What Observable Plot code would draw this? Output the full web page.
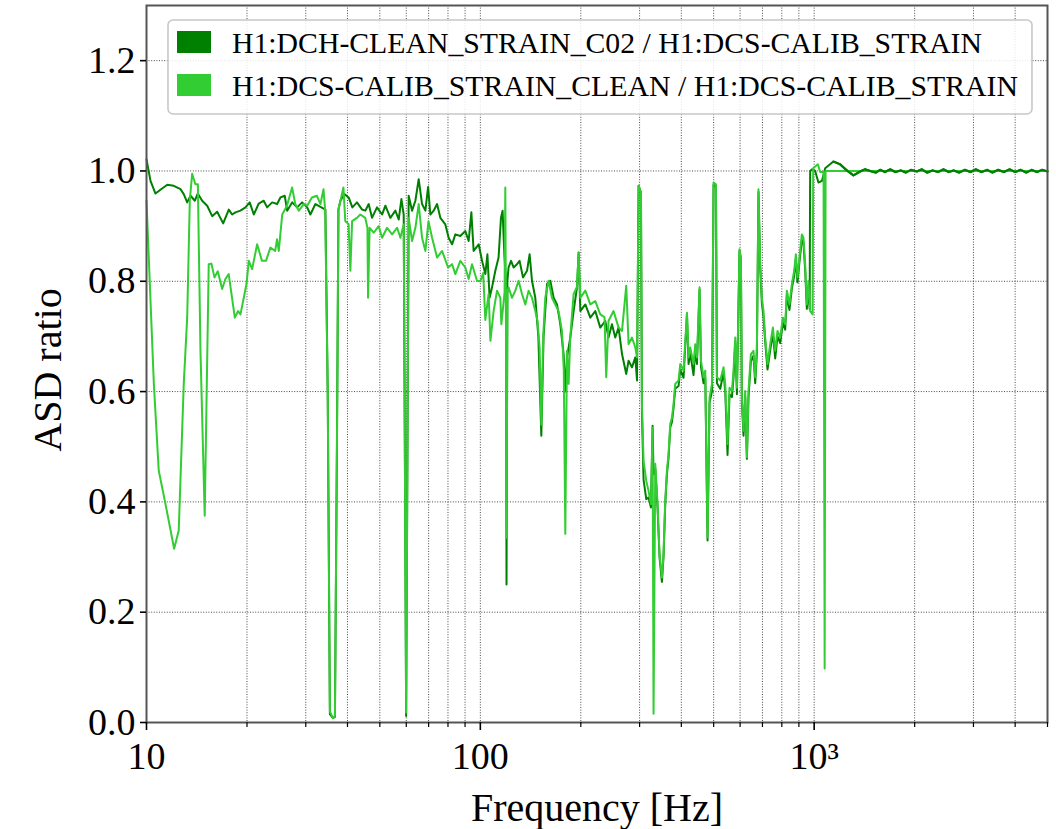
<!DOCTYPE html>
<html>
<head>
<meta charset="utf-8">
<script src="https://cdn.jsdelivr.net/npm/d3@7"></script>
<script src="https://cdn.jsdelivr.net/npm/@observablehq/plot@0.6"></script>
<style>
  body { margin: 0; background: #fff; }
  #chart { position: relative; width: 1056px; height: 829px; }
</style>
</head>
<body>
<div id="chart"></div>
<script>
// ---- data (frequency in Hz, ASD ratio) ----
const seriesNames = [
  "H1:DCH-CLEAN_STRAIN_C02 / H1:DCS-CALIB_STRAIN",
  "H1:DCS-CALIB_STRAIN_CLEAN / H1:DCS-CALIB_STRAIN"
];
const seriesColors = ["#008000", "#32cd32"];

const c02Ratio = [
  [10.0,1.021],[10.28,0.982],[10.64,0.959],[11.01,0.966],[11.54,0.975],[12.07,0.973],[12.64,0.967],[12.93,0.958],
  [13.24,0.943],[13.55,0.955],[13.96,0.946],[14.24,0.959],[14.68,0.946],[15.20,0.937],[15.73,0.918],[16.28,0.926],
  [16.97,0.905],[17.64,0.930],[18.05,0.921],[18.47,0.925],[19.12,0.928],[19.79,0.934],[20.38,0.943],[20.96,0.921],
  [21.69,0.941],[22.45,0.946],[22.98,0.934],[23.79,0.943],[24.62,0.940],[25.19,0.952],[25.95,0.955],[26.38,0.928],
  [27.30,0.943],[28.26,0.934],[29.25,0.943],[30.29,0.934],[30.97,0.921],[32.06,0.940],[33.19,0.935],[34.35,0.930],
  [34.90,0.600],[35.43,0.015],[36.18,0.008],[36.68,0.010],[37.19,0.500],[37.58,0.930],[38.09,0.946],[39.16,0.958],
  [40.33,0.952],[41.36,0.934],[42.71,0.943],[44.24,0.930],[45.26,0.928],[46.30,0.940],[47.37,0.915],[49.03,0.934],
  [50.78,0.921],[51.95,0.937],[53.76,0.915],[55.66,0.928],[56.95,0.912],[58.02,0.949],[58.95,0.921],[59.95,0.012],
  [61.0,0.955],[62.45,0.928],[63.89,0.946],[65.37,0.985],[66.90,0.940],[68.46,0.928],[69.75,0.971],[70.84,0.921],
  [72.48,0.928],[74.20,0.940],[75.89,0.915],[78.56,0.903],[80.37,0.879],[82.28,0.867],[84.17,0.885],[87.11,0.882],
  [90.18,0.891],[92.26,0.873],[94.0,0.925],[95.48,0.855],[98.88,0.867],[101.2,0.837],[103.5,0.813],[105.0,0.849],
  [106.6,0.770],[108.4,0.789],[110.9,0.819],[113.4,0.843],[115.3,0.915],[116.6,0.928],[118.0,0.849],[119.3,0.800],
  [119.8,0.250],[120.5,0.800],[121.5,0.825],[123.6,0.837],[125.8,0.825],[128.8,0.831],[131.1,0.837],[134.2,0.807],
  [138.0,0.819],[140.5,0.849],[142.8,0.801],[146.1,0.770],[149.2,0.700],[152.3,0.520],[154.7,0.700],[158.4,0.795],
  [162.0,0.801],[165.8,0.770],[169.7,0.758],[173.6,0.722],[177.6,0.668],[179.7,0.600],[181.8,0.662],[186.0,0.698],
  [190.3,0.746],[194.8,0.789],[197.0,0.852],[199.3,0.746],[206.3,0.758],[213.5,0.734],[221.0,0.746],[228.7,0.716],
  [236.7,0.728],[242.1,0.698],[247.9,0.722],[253.6,0.698],[259.5,0.716],[265.7,0.668],[273.6,0.632],[278.0,0.656],
  [284.6,0.644],[291.2,0.662],[294.7,0.620],[297.9,0.973],[302.8,0.961],[304.9,0.560],[308.3,0.440],[314.1,0.405],
  [319.1,0.408],[324.4,0.390],[328.1,0.538],[330.3,0.450],[334.2,0.460],[339.5,0.390],[344.2,0.300],[349.9,0.255],
  [353.8,0.300],[358.0,0.395],[362.2,0.450],[366.3,0.480],[370.6,0.535],[375.0,0.545],[379.1,0.570],[383.5,0.605],
  [392.4,0.610],[397.1,0.640],[406.2,0.625],[415.9,0.740],[420.5,0.650],[425.4,0.670],[435.2,0.630],[440.4,0.675],
  [445.6,0.650],[453.6,0.785],[458.1,0.645],[466.4,0.615],[471.9,0.625],[479.3,0.330],[486.0,0.580],[494.1,0.600],
  [499.6,0.975],[507.9,0.972],[511.4,0.615],[523.2,0.605],[535.2,0.635],[541.5,0.600],[550.2,0.485],[557.8,0.595],
  [567.1,0.590],[573.4,0.625],[580.2,0.690],[587.0,0.595],[597.5,0.855],[603.3,0.840],[607.5,0.580],[614.3,0.520],
  [621.5,0.590],[628.8,0.478],[635.8,0.590],[646.4,0.655],[658.1,0.665],[665.9,0.615],[673.6,0.670],[681.1,0.962],
  [689.2,0.825],[697.3,0.760],[705.1,0.735],[713.4,0.690],[724.8,0.640],[738.5,0.675],[752.2,0.705],[764.3,0.660],
  [776.5,0.700],[791.1,0.688],[806.0,0.725],[818.9,0.712],[828.6,0.775],[843.3,0.748],[857.5,0.787],[871.3,0.810],
  [881.5,0.840],[891.3,0.798],[903.6,0.835],[918.8,0.875],[928.9,0.870],[939.9,0.820],[950.7,0.750],[961.3,0.790],
  [969.4,0.750],[972.7,1.000],[986.3,1.003],[1007,1.000],[1030,0.979],[1055,0.982],[1079,1.005],[1142,1.017],
  [1196,1.012],[1247,1.002],[1311,0.992],[1373,0.999],[1420,1.003],[1472,1.000],[1530,0.997],[1576,1.002],
  [1630,0.998],[1690,1.003],[1750,0.998],[1820,1.001],[1880,0.997],[1950,1.002],[2030,0.999],[2100,1.003],
  [2180,0.997],[2260,1.001],[2350,0.998],[2440,1.003],[2530,0.998],[2620,1.001],[2720,0.997],[2830,1.002],
  [2940,0.998],[3050,1.003],[3170,0.998],[3300,1.002],[3420,0.997],[3560,1.002],[3700,0.998],[3850,1.003],
  [4000,0.998],[4150,1.002],[4320,0.997],[4480,1.002],[4650,0.998],[4820,1.002],[5000,0.999]
];

const cleanRatio = [
  [10.0,0.946],[10.52,0.614],[10.88,0.457],[11.40,0.396],[12.10,0.315],[12.49,0.348],[12.93,0.614],[13.24,0.734],
  [13.48,0.946],[13.70,0.995],[14.01,0.976],[14.25,0.976],[14.51,0.674],[14.94,0.375],[15.36,0.831],[15.65,0.832],
  [15.98,0.807],[16.35,0.818],[16.85,0.786],[17.23,0.804],[17.63,0.813],[18.39,0.734],[18.81,0.746],[19.12,0.740],
  [19.56,0.770],[19.93,0.795],[20.25,0.837],[20.72,0.822],[21.45,0.867],[22.18,0.837],[22.80,0.837],[23.50,0.861],
  [24.30,0.855],[24.60,0.876],[24.90,0.855],[25.50,0.921],[26.35,0.937],[27.30,0.970],[27.90,0.940],[28.60,0.928],
  [29.60,0.940],[30.30,0.937],[31.30,0.952],[32.40,0.955],[33.20,0.940],[33.90,0.967],[34.30,0.928],[34.90,0.600],
  [35.43,0.020],[36.18,0.008],[36.68,0.012],[37.19,0.500],[37.58,0.930],[38.10,0.946],[38.90,0.970],[39.40,0.909],
  [40.30,0.904],[40.80,0.819],[41.30,0.909],[42.70,0.915],[43.70,0.921],[45.20,0.915],[45.90,0.897],[46.10,0.770],
  [46.60,0.897],[47.93,0.888],[49.60,0.900],[50.78,0.879],[52.56,0.897],[54.40,0.885],[56.32,0.897],[57.62,0.879],
  [58.95,0.903],[59.95,0.018],[61.00,0.915],[62.45,0.873],[63.89,0.897],[65.37,0.940],[66.90,0.879],[68.46,0.855],
  [69.93,0.909],[71.69,0.879],[74.20,0.843],[76.81,0.855],[80.04,0.825],[82.28,0.831],[84.17,0.813],[87.11,0.837],
  [90.18,0.825],[92.26,0.804],[94.43,0.831],[97.74,0.801],[100.0,0.800],[102.0,0.815],[103.5,0.730],[105.9,0.777],
  [107.2,0.692],[109.6,0.746],[112.2,0.783],[114.8,0.770],[115.6,0.722],[118.2,0.780],[118.8,0.970],[119.3,0.750],
  [119.8,0.335],[120.6,0.780],[121.5,0.789],[124.4,0.770],[127.3,0.783],[130.2,0.801],[133.3,0.777],[136.4,0.758],
  [139.5,0.783],[142.8,0.770],[146.1,0.746],[148.4,0.728],[150.5,0.680],[152.3,0.540],[154.3,0.700],[156.5,0.770],
  [160.2,0.801],[163.9,0.770],[167.7,0.758],[171.5,0.746],[175.6,0.710],[177.8,0.640],[179.7,0.342],[181.8,0.674],
  [183.9,0.614],[186.0,0.700],[190.3,0.777],[194.8,0.790],[197.0,0.852],[199.3,0.770],[206.3,0.783],[213.5,0.758],
  [221.0,0.764],[228.7,0.740],[235.5,0.735],[238.3,0.626],[242.1,0.728],[250.6,0.746],[259.5,0.716],[265.7,0.710],
  [273.6,0.792],[278.0,0.686],[284.6,0.698],[291.2,0.680],[294.7,0.662],[297.9,0.973],[302.8,0.961],[304.9,0.577],
  [308.3,0.475],[314.1,0.438],[319.1,0.420],[324.4,0.396],[328.1,0.535],[330.3,0.016],[334.2,0.469],[339.5,0.396],
  [344.2,0.305],[349.9,0.263],[353.8,0.305],[358.0,0.402],[362.2,0.457],[366.3,0.487],[370.6,0.541],[375.0,0.553],
  [379.1,0.577],[383.5,0.614],[392.4,0.620],[397.1,0.650],[406.2,0.638],[415.9,0.743],[420.5,0.662],[425.4,0.680],
  [435.2,0.650],[440.4,0.686],[445.6,0.662],[453.6,0.789],[458.1,0.656],[466.4,0.626],[471.9,0.638],[479.3,0.336],
  [486.0,0.589],[494.1,0.614],[499.6,0.979],[507.9,0.976],[511.4,0.626],[523.2,0.620],[535.2,0.644],[541.5,0.614],
  [550.2,0.505],[557.8,0.607],[567.1,0.601],[573.4,0.638],[580.2,0.698],[587.0,0.607],[597.5,0.858],[603.3,0.843],
  [607.5,0.589],[614.3,0.529],[621.5,0.601],[628.8,0.481],[635.8,0.601],[646.4,0.668],[658.1,0.674],[665.9,0.626],
  [673.6,0.680],[681.1,0.967],[689.2,0.831],[697.3,0.770],[705.1,0.746],[713.4,0.698],[724.8,0.650],[738.5,0.686],
  [752.2,0.716],[764.3,0.674],[776.5,0.710],[791.1,0.698],[806.0,0.734],[818.9,0.722],[828.6,0.783],[843.3,0.758],
  [857.5,0.795],[871.3,0.819],[881.5,0.849],[891.3,0.807],[903.6,0.843],[918.8,0.885],[928.9,0.879],[939.9,0.831],
  [950.7,0.758],[961.3,0.801],[972.7,0.746],[989.7,0.740],[993.4,1.005],[1026,1.012],[1042,0.998],[1067,0.998],
  [1075,0.098],[1082,1.000],[1200,1.000],[1500,1.000],[2000,1.000],[3000,1.000],[4000,1.000],[5000,1.000]
];

const xMajorTicks = [10, 100, 1000];
const xMinorTicks = [20, 30, 40, 50, 60, 70, 80, 90, 200, 300, 400, 500, 600, 700, 800, 900, 2000, 3000, 4000, 5000];
const yTicks = [0, 0.2, 0.4, 0.6, 0.8, 1.0, 1.2];
const xLabel = "Frequency [Hz]";
const yLabel = "ASD ratio";

// ---- build ----
const rows = (arr) => arr.map(([f, v]) => ({f, v}));
const c02Rows = rows(c02Ratio);
const cleanRows = rows(cleanRatio);
const fontFamily = "'Liberation Serif', 'DejaVu Serif', serif";

const plot = Plot.plot({
  width: 1056,
  height: 829,
  marginLeft: 146,
  marginRight: 9,
  marginTop: 5,
  marginBottom: 107,
  style: {fontFamily, background: "#fff", color: "#000"},
  x: {type: "log", domain: [10, 5000], label: null},
  y: {domain: [0, 1.3], label: null},
  marks: [
    Plot.gridX([...xMajorTicks, ...xMinorTicks], {stroke: "#000", strokeOpacity: 0.8, strokeWidth: 0.9, strokeDasharray: "1,1.6"}),
    Plot.gridY(yTicks.filter(d => d > 0), {stroke: "#000", strokeOpacity: 0.8, strokeWidth: 0.9, strokeDasharray: "1,1.6"}),
    Plot.line(c02Rows, {x: "f", y: "v", stroke: seriesColors[0], strokeWidth: 2}),
    Plot.line(cleanRows, {x: "f", y: "v", stroke: seriesColors[1], strokeWidth: 2}),
    Plot.line(c02Rows.filter(d => d.f > 1100), {x: "f", y: "v", stroke: seriesColors[0], strokeWidth: 2.2}),
    Plot.frame({stroke: "#555", strokeWidth: 2}),
    Plot.axisX(xMajorTicks, {tickSize: 8, tickPadding: 12, strokeWidth: 1.6, fontSize: 38,
      tickFormat: d => d === 1000 ? "10³" : String(d)}),
    Plot.axisX(xMinorTicks, {tickSize: 5, strokeWidth: 1.2, tickFormat: () => ""}),
    Plot.axisY(yTicks, {tickSize: 6, tickPadding: 5, strokeWidth: 1.6, fontSize: 38,
      tickFormat: d => d.toFixed(1)}),
    Plot.text([xLabel], {frameAnchor: "bottom", dy: 98, lineAnchor: "bottom", textAnchor: "middle", fontSize: 40, text: d => d}),
    Plot.text([yLabel], {frameAnchor: "left", dx: -86, dy: 6, rotate: -90, lineAnchor: "bottom", textAnchor: "middle", fontSize: 40, text: d => d})
  ]
});
document.getElementById("chart").append(plot);

// ---- legend (inside the plot, upper left) ----
const svg = d3.select(plot);
const lg = svg.append("g").attr("font-family", fontFamily).attr("text-anchor", "start");
lg.append("rect")
  .attr("x", 168).attr("y", 20).attr("width", 864).attr("height", 94)
  .attr("rx", 5).attr("fill", "#fff").attr("fill-opacity", 0.85)
  .attr("stroke", "#c8c8c8").attr("stroke-width", 1.6);
const legendWidths = [750, 786];
seriesNames.forEach((name, i) => {
  const y0 = 31 + i * 43;
  lg.append("rect").attr("x", 177).attr("y", y0).attr("width", 34).attr("height", 22)
    .attr("fill", seriesColors[i]);
  lg.append("text").attr("x", 232).attr("y", y0 + 22).attr("font-size", 29)
    .attr("text-anchor", "start")
    .attr("textLength", legendWidths[i]).attr("lengthAdjust", "spacingAndGlyphs")
    .attr("fill", "#000").text(name);
});
</script>
</body>
</html>
